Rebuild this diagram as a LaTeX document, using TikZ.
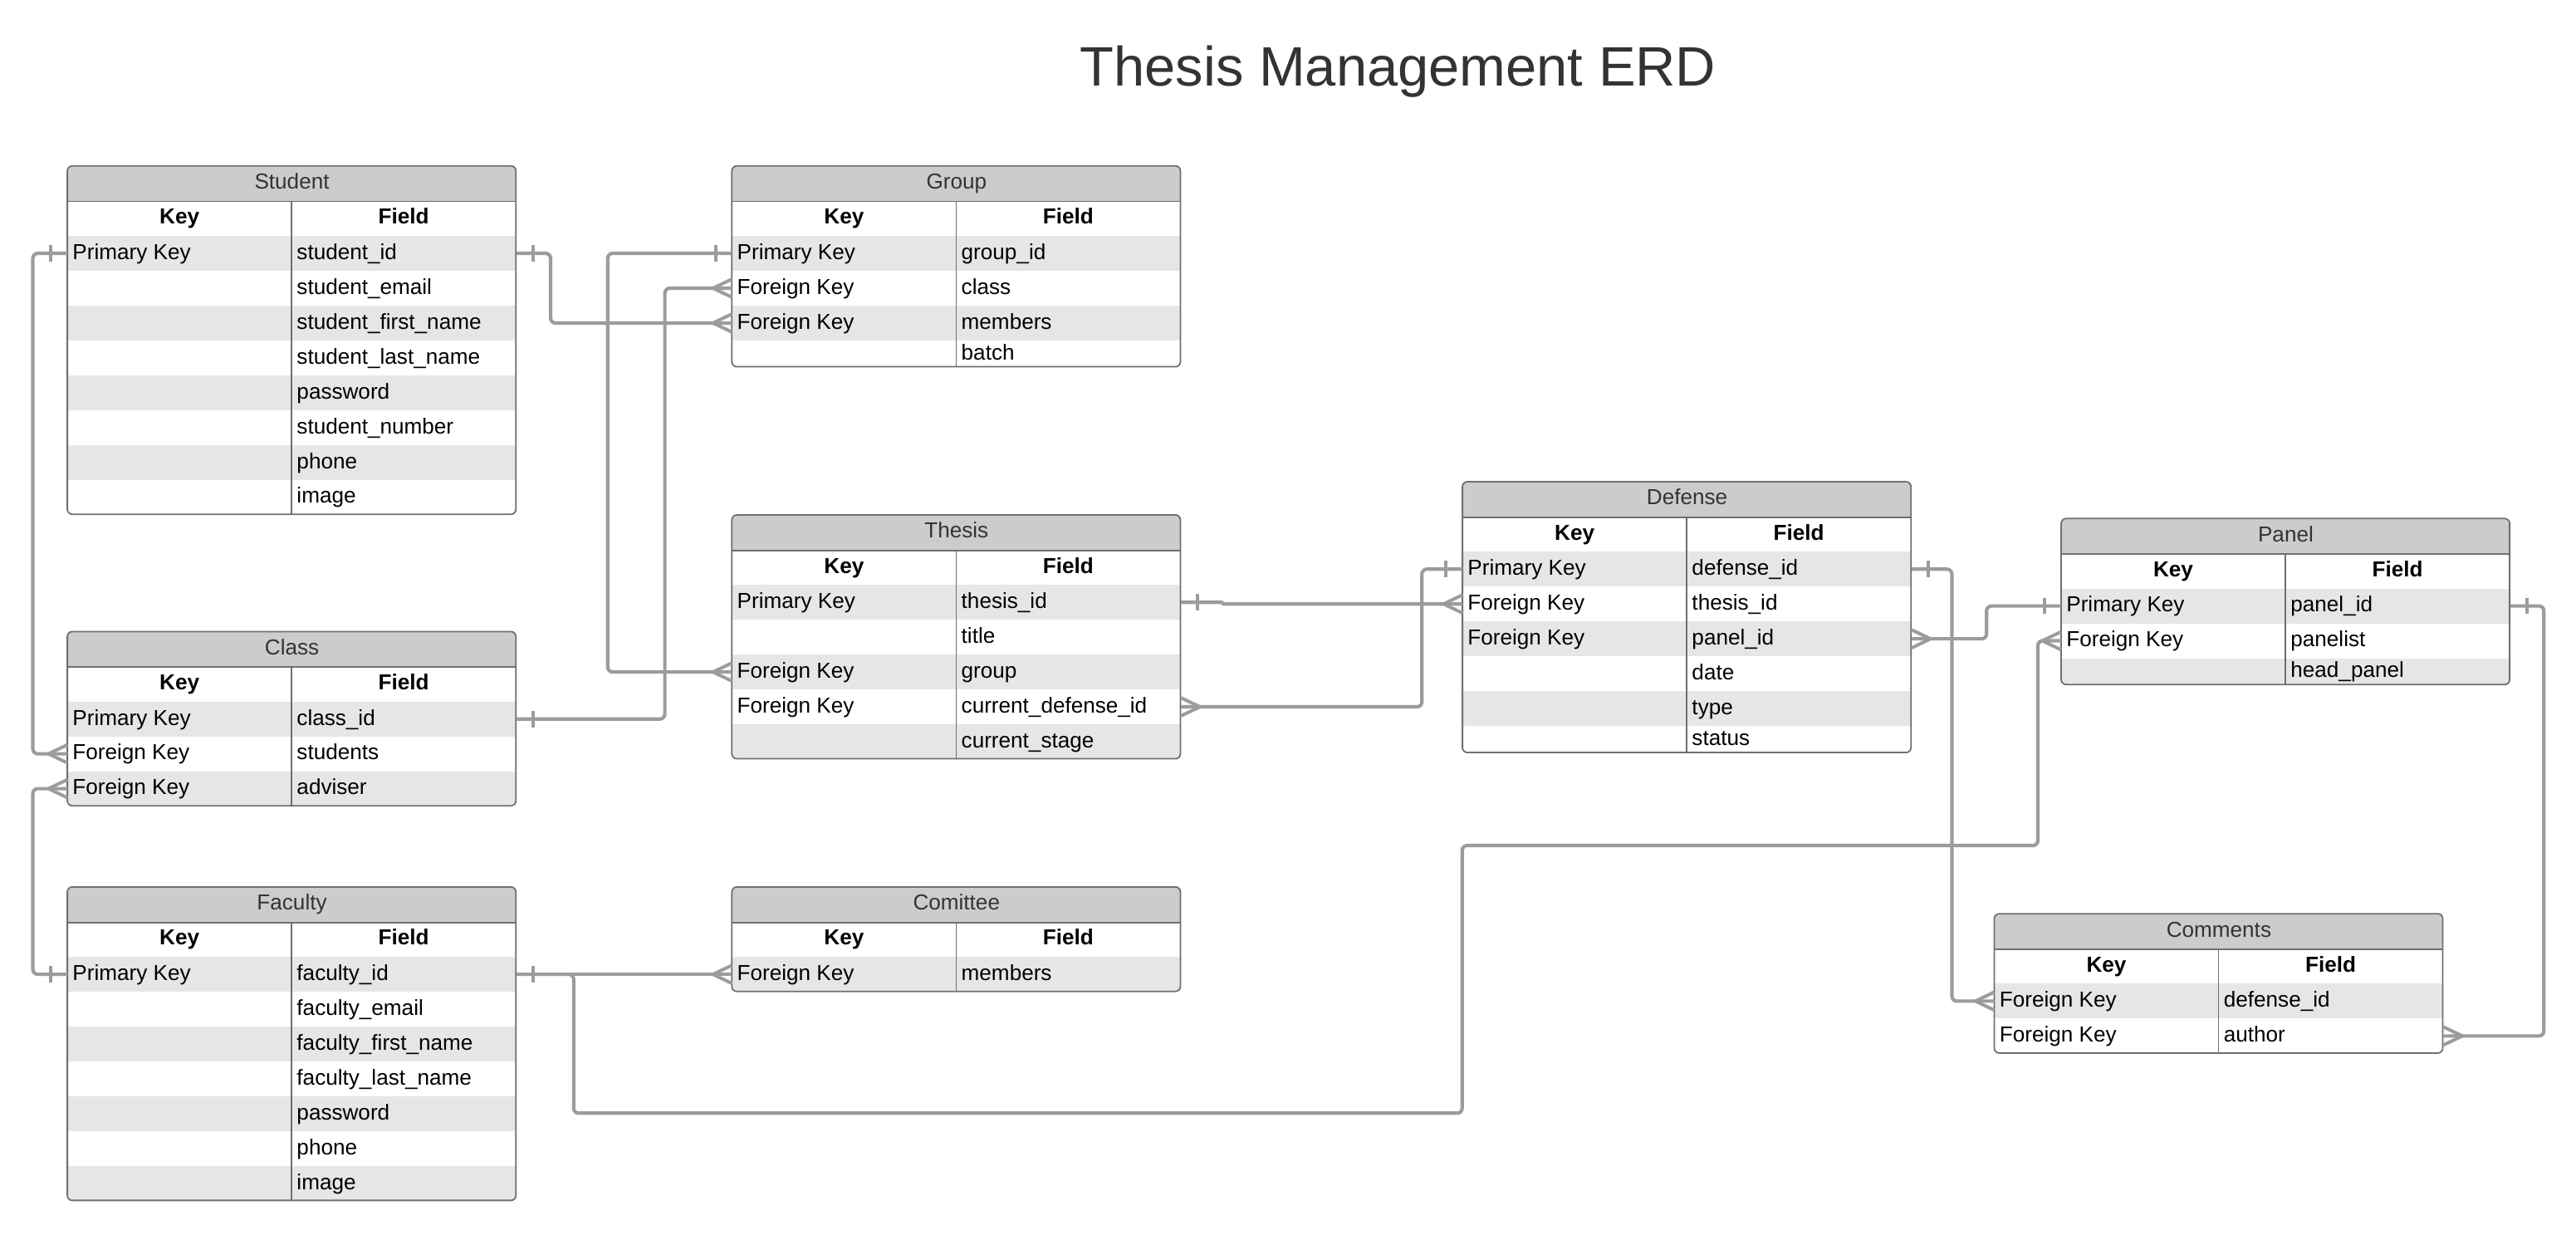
\documentclass[tikz,border=0pt]{standalone}
\usepackage{fontspec}
\setmainfont{Liberation Sans}
\definecolor{hdrgray}{HTML}{CCCCCC}
\definecolor{bandgray}{HTML}{E6E6E6}
\definecolor{rimgray}{HTML}{6F6F6F}
\definecolor{wiregray}{HTML}{9C9C9C}
\definecolor{inkgray}{HTML}{333333}
\newcommand{\erdfont}{\fontsize{13.2}{15}\selectfont}
\newcommand{\erdtable}[7]{%
  \pgfmathsetmacro{\tabh}{42.4+(#5-1)*21.2+#6}
  \begin{scope}
    \clip[rounded corners=3pt] (#2,#3) rectangle ({#2+273},{#3+\tabh});
    \node[rowbox, fill=hdrgray] (#1) at (#2,#3) {};
    \node[rowbox] (#1-0) at ({#2},{#3+21.2}) {};
    \foreach \k/\f [count=\i] in {#7} {
      \pgfmathsetmacro{\rh}{ifthenelse(\i==#5,#6,21.2)}
      \ifodd\i\relax\def\rowfill{bandgray}\else\def\rowfill{white}\fi
      \node[rowbox, fill=\rowfill, minimum height=\rh pt] (#1-\i) at ({#2},{#3+42.4+(\i-1)*21.2}) {};
      \node[cell] (#1-\i-k) at ([xshift=3pt, yshift=1pt]#1-\i.west) {\k};
      \node[cell] (#1-\i-f) at ([xshift=139.5pt, yshift=1pt]#1-\i.west) {\f};
    }
  \end{scope}
  \node[cell, anchor=center, text=inkgray, yshift=1.4pt] (#1-t) at (#1.center) {#4};
  \node[cell, anchor=center, font=\erdfont\bfseries, yshift=1.3pt] (#1-0-k) at ([xshift=68.25pt]#1-0.west) {Key};
  \node[cell, anchor=center, font=\erdfont\bfseries, yshift=1.3pt] (#1-0-f) at ([xshift=204.75pt]#1-0.west) {Field};
  \draw[rimline] (#1.south west) -- (#1.south east);
  \draw[rimline] ([xshift=136.5pt]#1-0.north west) -- ({#2+136.5},{#3+\tabh});
  \draw[rimline, rounded corners=3pt] (#2,#3) rectangle ({#2+273},{#3+\tabh});
}

\begin{document}
\begin{tikzpicture}[x=1pt, y=-1pt,
    rowbox/.style={inner sep=0pt, minimum width=273pt, minimum height=21.2pt, anchor=north west},
    cell/.style={inner sep=0pt, text height=9.4pt, text depth=0pt, anchor=west, font=\erdfont},
    rimline/.style={draw=rimgray, line width=0.9pt},
    wire/.style={draw=wiregray, line width=2.1pt, rounded corners=3pt},
    tick/.style={draw=wiregray, line width=2pt},
    onemark/.pic={\draw[tick] (10,-5) -- (10,5);},
    crowfoot/.pic={\draw[tick] (0,-5.5) -- (11.5,0) -- (0,5.5);}]
  \fill[white] (0,0) rectangle (1568,751.15);
  \useasboundingbox (0,0) rectangle (1568,751.15);
  \node[anchor=base, text=inkgray, font=\fontsize{33.8}{40}\selectfont] (title) at (851,52.1) {Thesis Management ERD};

  \erdtable{stu}{41}{101}{Student}{8}{21.2}{Primary Key/student\_id, /student\_email, /student\_first\_name, /student\_last\_name, /password, /student\_number, /phone, /image}
  \erdtable{grp}{445.5}{101}{Group}{4}{16.2}{Primary Key/group\_id, Foreign Key/class, Foreign Key/members, /batch}
  \erdtable{ths}{445.5}{313.4}{Thesis}{5}{21.2}{Primary Key/thesis\_id, /title, Foreign Key/group, Foreign Key/current\_defense\_id, /current\_stage}
  \erdtable{dfn}{890.2}{293.2}{Defense}{6}{16.4}{Primary Key/defense\_id, Foreign Key/thesis\_id, Foreign Key/panel\_id, /date, /type, /status}
  \erdtable{pnl}{1254.6}{315.6}{Panel}{3}{16.2}{Primary Key/panel\_id, Foreign Key/panelist, /head\_panel}
  \erdtable{cls}{41}{384.4}{Class}{3}{21.2}{Primary Key/class\_id, Foreign Key/students, Foreign Key/adviser}
  \erdtable{fac}{41}{539.8}{Faculty}{7}{21.2}{Primary Key/faculty\_id, /faculty\_email, /faculty\_first\_name, /faculty\_last\_name, /password, /phone, /image}
  \erdtable{cmt}{445.5}{539.8}{Comittee}{1}{21.2}{Foreign Key/members}
  \erdtable{cmn}{1213.9}{556.1}{Comments}{2}{21.2}{Foreign Key/defense\_id, Foreign Key/author}

  \draw[wire] (stu-1.east) -- ++(20.7,0) |- (grp-3.west);
  \draw[wire] (grp-1.west) -- ++(-75.6,0) |- (ths-3.west);
  \draw[wire] (grp-2.west) -- ++(-40.8,0) |- (cls-1.east);
  \draw[wire] (stu-1.west) -- ++(-21,0) |- (cls-2.west);
  \draw[wire] (cls-3.west) -- ++(-21,0) |- (fac-1.west);
  \draw[wire] (fac-1.east) -- (cmt-1.west);
  \draw[wire] (fac-1.east) -- ++(34.8,0) |- (890,677.5) |- (1240.4,514.6) |- (pnl-2.west);
  \draw[wire, sharp corners] (ths-1.east) -- ++(24.8,0) -- ++(1,1) -- (dfn-2.west);
  \draw[wire] (ths-4.east) -- ++(146.6,0) |- (dfn-1.west);
  \draw[wire] (dfn-1.east) -- ++(24.5,0) |- (cmn-1.west);
  \draw[wire] (dfn-3.east) -- ++(45.6,0) |- (pnl-1.west);
  \draw[wire] (pnl-1.east) -- ++(20.4,0) |- (cmn-2.east);

  \foreach \p in {stu-1.east, cls-1.east, fac-1.east, ths-1.east, dfn-1.east, pnl-1.east}
    \pic at (\p) {onemark};
  \foreach \p in {grp-1.west, stu-1.west, fac-1.west, dfn-1.west, pnl-1.west}
    \pic[xscale=-1] at (\p) {onemark};
  \foreach \p in {ths-4.east, dfn-3.east, cmn-2.east}
    \pic at (\p) {crowfoot};
  \foreach \p in {grp-3.west, ths-3.west, grp-2.west, cls-2.west, cls-3.west, cmt-1.west, pnl-2.west, dfn-2.west, cmn-1.west}
    \pic[xscale=-1] at (\p) {crowfoot};
\end{tikzpicture}
\end{document}
